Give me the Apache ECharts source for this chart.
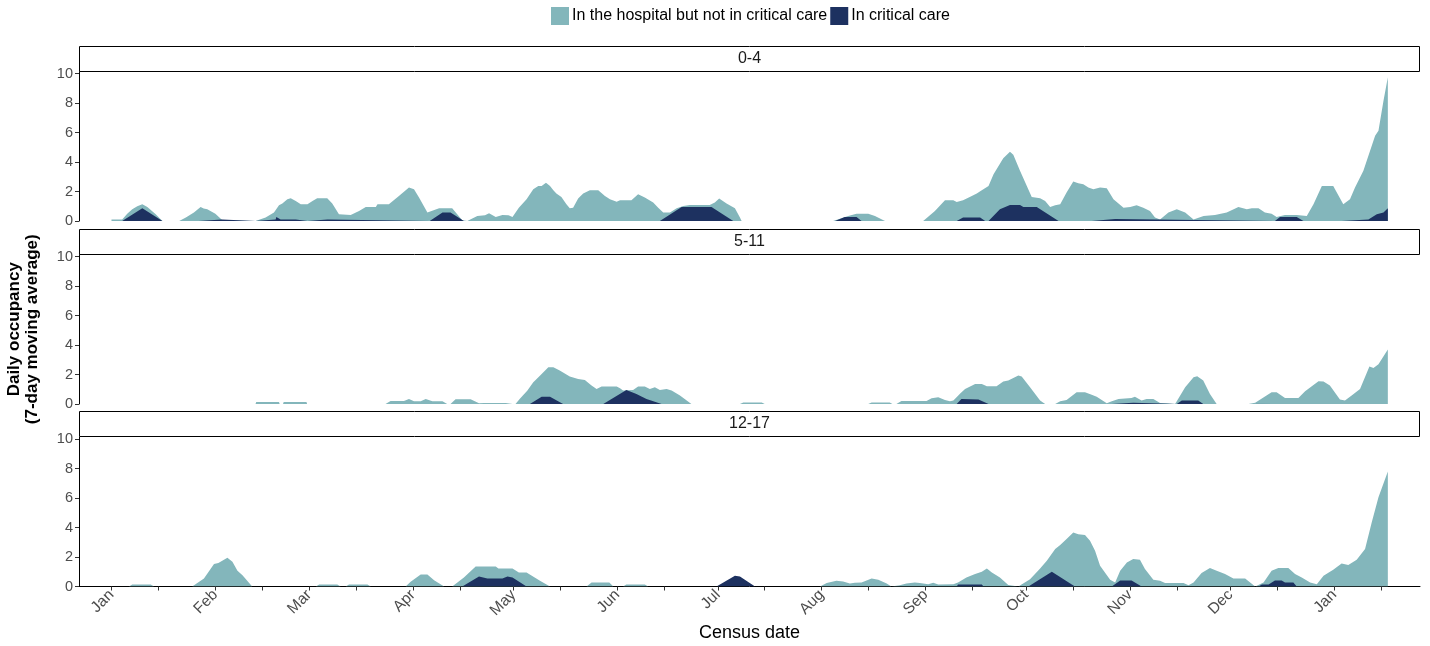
<!DOCTYPE html>
<html>
<head>
<meta charset="utf-8">
<script src="https://cdn.jsdelivr.net/npm/echarts@6/dist/echarts.min.js"></script>
<style>
html,body{margin:0;padding:0;background:#fff;}
#chart{width:1430px;height:646px;}
</style>
</head>
<body>
<div id="chart"></div>
<script>
// x values: days since 2021-01-01 (census date)
const monthStartDays = [0, 31, 59, 90, 120, 151, 181, 212, 243, 273, 304, 334, 365];
const monthLabels = ['Jan','Feb','Mar','Apr','May','Jun','Jul','Aug','Sep','Oct','Nov','Dec','Jan'];
const ageGroups = ['0-4', '5-11', '12-17'];
const yTicks = [0, 2, 4, 6, 8, 10];
const seriesNames = ['In the hospital but not in critical care', 'In critical care'];

// 0-4: in hospital but not in critical care
const hosp04 = [[0,0.11],[3.2,0.11],[4.7,0.5],[6.2,0.8],[7.7,1.0],[9.2,1.13],[10.7,0.95],[13.2,0.45],[15.2,0],
[20.2,0],[20.5,0.1],[22.2,0.23],[24.6,0.57],[26.6,0.95],[27.5,0.85],[28.6,0.8],[31,0.5],[33.1,0.05],[33.5,0],
[43,0],[43.2,0.05],[46,0.23],[48.5,0.57],[50,1.07],[51,1.18],[52.5,1.47],[53.5,1.54],[55,1.36],[56.5,1.13],[58.5,1.13],[60,1.36],[61.4,1.54],[64.4,1.54],[65.9,1.18],[67.9,0.45],[71.4,0.41],[73.9,0.68],[75.9,0.95],[78.9,0.95],[79.4,1.13],[82.8,1.13],[85.8,1.7],[88.8,2.27],[90.3,2.15],[91.8,1.59],[94.3,0.57],[97.8,0.86],[101.7,0.86],[104.7,0.05],[105,0],
[106.2,0],[106.5,0.05],[109.2,0.34],[111.5,0.39],[112.7,0.52],[114.7,0.27],[116.7,0.41],[118.5,0.39],[119.7,0.27],[121.6,0.9],[123.9,1.47],[125.9,2.15],[127.4,2.38],[128.4,2.38],[129.7,2.6],[130.9,2.38],[131.9,2.09],[132.8,1.86],[134.3,1.63],[135.8,1.13],[136.8,0.86],[137.8,0.9],[139.3,1.52],[140.8,1.86],[142.8,2.09],[145.3,2.09],[147.3,1.7],[148.8,1.47],[150.8,1.31],[151.8,1.41],[155.2,1.41],[157.2,1.81],[159.2,1.59],[161.7,1.25],[163.2,0.9],[164.7,0.57],[166.7,0.57],[168.7,0.86],[170.7,1.02],[172.6,1.09],[178.6,1.09],[180.1,1.25],[181.4,1.52],[183.6,1.18],[186.1,0.86],[187.6,0.23],[188.1,0],
[215.4,0],[219.9,0.34],[222.4,0.5],[225.9,0.5],[227.9,0.34],[230.9,0],
[242.3,0],[245.8,0.68],[248.8,1.41],[251.3,1.41],[252.3,1.29],[254.2,1.41],[256.2,1.63],[258.3,1.86],[259.2,2.0],[261.8,2.38],[263.3,3.17],[266.2,4.26],[268.2,4.69],[269.2,4.49],[271.2,3.4],[274.7,1.63],[277.2,1.54],[278.7,1.36],[280.2,0.95],[281.7,1.07],[283.2,1.13],[285.1,1.93],[287.1,2.68],[288.6,2.56],[290.1,2.49],[291.6,2.27],[293.1,2.15],[295.1,2.27],[297.1,2.22],[299.1,1.47],[300.6,1.18],[302.1,0.9],[304.1,0.95],[306,1.07],[308,0.9],[310,0.68],[311.5,0.23],[313,0.11],[315.5,0.57],[318,0.8],[320.5,0.57],[323,0.11],[326,0.34],[329.4,0.41],[332.9,0.57],[336.4,0.95],[338.9,0.8],[340.4,0.86],[342.4,0.86],[344.3,0.57],[346.3,0.5],[347.8,0.27],[350.3,0.41],[353.8,0.41],[356.8,0.34],[358.8,1.13],[361.3,2.38],[364.7,2.38],[367.7,1.13],[369.7,1.47],[371.2,2.27],[373.7,3.4],[377.2,5.78],[378.2,6.12],[379.7,8.16],[381,9.75]];

// 0-4: in critical care
const icu04 = [[3.2,0],[9.2,0.86],[15.2,0],
[26,0],[26.2,0.1],[33,0.1],[33.2,0],
[43,0],[43.2,0.1],[49,0.1],[49.2,0.27],[50.5,0.1],[55,0.1],[55.2,0],
[58.5,0],[58.7,0.1],[64.5,0.1],[64.7,0],
[95,0],[98.8,0.57],[101.2,0.57],[105.2,0],
[163.7,0],[170.2,0.95],[179.1,0.95],[185.6,0],
[216,0],[218.9,0.27],[222.4,0.27],[223.9,0],
[252.3,0],[254.2,0.23],[259.3,0.23],[260.8,0],[261.8,0],[265.2,0.8],[268.2,1.09],[271.2,1.09],[272.2,0.95],[276.2,0.95],[282.7,0],
[292.6,0],[293,0.13],[299.6,0.13],[300,0],
[347.3,0],[348.8,0.27],[353.8,0.27],[355.8,0],
[367.2,0],[367.7,0.11],[375.2,0.11],[377.7,0.45],[379.7,0.57],[381,0.86]];

// 5-11: in hospital but not in critical care
const hosp511 = [[43,0],[43.2,0.14],[50,0.14],[50.2,0],[51.2,0],[51.4,0.14],[58.2,0.14],[58.4,0],
[81.8,0],[83.3,0.2],[87.3,0.2],[88.8,0.34],[90.3,0.18],[92.3,0.18],[93.8,0.34],[95.8,0.18],[98.8,0.18],[100.2,0],
[101.2,0],[102.7,0.32],[107.2,0.32],[109.7,0.05],[111.2,0.07],[117.7,0.07],[119.7,0],
[120.6,0],[121.9,0.35],[124.1,0.9],[125.9,1.47],[126.6,1.63],[128.4,2.04],[130.4,2.49],[131.9,2.49],[133.8,2.27],[136.8,1.86],[139.3,1.7],[141.3,1.63],[143.3,1.25],[144.8,1.02],[146.3,1.18],[150.8,1.18],[151.8,1.07],[152.7,0.91],[155.7,0.95],[157.2,1.18],[159.2,1.18],[160.7,1.02],[162.2,1.13],[163.7,0.95],[165.7,1.02],[167.2,0.91],[169.7,0.57],[171.7,0.23],[173.1,0],
[187.6,0],[188.6,0.1],[194.1,0.1],[195,0],
[225.9,0],[226.9,0.1],[232.3,0.1],[233.1,0],
[234.3,0],[235.8,0.2],[243.3,0.2],[244.8,0.39],[246.8,0.45],[248.8,0.27],[250.3,0.18],[251.3,0.23],[253.5,0.75],[254.8,1.02],[257.8,1.36],[259.8,1.36],[261.3,1.2],[264.2,1.2],[266.2,1.52],[267.7,1.59],[270.7,1.93],[271.7,1.86],[274.2,1.13],[277.2,0.23],[278.7,0],
[281.7,0],[283.2,0.18],[285.1,0.27],[288.1,0.8],[290.6,0.8],[292.6,0.63],[294.1,0.5],[297.1,0.05],[298.6,0.18],[300.6,0.34],[304.5,0.41],[305.5,0.5],[307.5,0.23],[309,0.34],[311,0.34],[313,0.07],[315,0.05],[315.5,0],
[317.5,0],[320.5,1.13],[323,1.81],[324.1,1.88],[325.9,1.59],[327.9,0.68],[329.9,0],
[339.4,0],[341.4,0.09],[346.3,0.8],[347.8,0.8],[350.3,0.41],[354.3,0.41],[356.3,0.86],[360.3,1.54],[361.8,1.52],[363.7,1.25],[366.7,0.3],[368.2,0.23],[370.2,0.57],[372.7,1.02],[375.5,2.54],[376.7,2.45],[378.2,2.7],[381,3.7]];

// 5-11: in critical care
const icu511 = [[124.9,0],[128.4,0.5],[130.9,0.5],[134.8,0],
[146.8,0],[153.7,0.95],[156.7,0.68],[159.7,0.34],[164.2,0],
[252.3,0],[253.7,0.34],[258.8,0.3],[261.8,0],
[298.6,0],[299,0.09],[305,0.09],[305.4,0],
[318,0],[319.5,0.23],[324.4,0.23],[325.9,0],
[341.4,0],[341.8,0.09],[348.3,0.09],[348.7,0]];

// 12-17: in hospital but not in critical care
const hosp1217 = [[5.2,0],[6.2,0.14],[11.7,0.14],[12.7,0],
[24.1,0],[27.6,0.54],[30.6,1.52],[31.9,1.59],[34.6,1.95],[36.1,1.68],[37.6,1.07],[39.1,0.77],[42,0],
[61,0],[62,0.14],[67.4,0.14],[68.4,0],[69.9,0],[70.9,0.14],[76.4,0.14],[77.4,0],
[87.8,0],[89.3,0.32],[92.3,0.82],[94.3,0.82],[96.3,0.43],[99.3,0],
[101.7,0],[105.2,0.61],[108.7,1.36],[114.7,1.36],[115.5,1.22],[119.7,1.22],[121.6,0.95],[123.9,0.95],[127.9,0.39],[130.9,0],
[141.8,0],[143.3,0.27],[148.6,0.27],[149.8,0],[152.7,0],[153.7,0.14],[159.2,0.14],[160.2,0],
[211.5,0],[213.5,0.23],[216.4,0.39],[218.4,0.34],[220.4,0.2],[221.9,0.25],[223.9,0.27],[226.9,0.54],[228.9,0.45],[231.4,0.2],[232.8,0],[235.3,0.09],[237.3,0.2],[239.8,0.27],[241.3,0.23],[243.8,0.16],[245.3,0.25],[246.8,0.14],[251.3,0.16],[252.7,0.27],[255.2,0.61],[257.8,0.84],[259.8,1.0],[261.3,1.22],[262.8,0.95],[265.2,0.61],[267.7,0.11],[268.2,0],
[270.7,0],[274.2,0.5],[277.2,1.22],[279.2,1.75],[281.7,2.54],[283.2,2.81],[285.1,3.22],[287.1,3.67],[288.6,3.54],[290.6,3.49],[292.1,3.11],[293.6,2.43],[295.1,1.41],[298.1,0.45],[299.6,0.27],[301.1,1.07],[303.1,1.63],[305,1.86],[307,1.81],[308.5,1.18],[311,0.45],[313,0.39],[314.5,0.23],[320,0.23],[321.5,0.09],[323,0.27],[325.4,0.91],[327.9,1.25],[329.9,1.07],[332.4,0.84],[334.9,0.54],[338.4,0.54],[341.4,0],[343.9,0.27],[346.3,1.07],[348.3,1.25],[351.3,1.25],[353.3,0.84],[355.3,0.61],[357.8,0.27],[359.8,0.16],[361.8,0.73],[364.7,1.13],[367.2,1.56],[369.2,1.45],[371.7,1.81],[374.2,2.54],[376.2,4.35],[378.2,6.05],[381,7.8]];

// 12-17: in critical care
const icu1217 = [[104.7,0],[109.7,0.68],[112.2,0.54],[116.7,0.54],[118.2,0.68],[119.7,0.61],[123.9,0],
[180.6,0],[186.1,0.73],[187.6,0.68],[192.1,0],
[252.3,0],[252.7,0.14],[259.8,0.14],[260.3,0],
[273.7,0],[280.7,1.0],[287.6,0],
[298.6,0],[301.1,0.41],[304.5,0.41],[307.5,0],
[342.4,0],[343.4,0.14],[345.4,0.14],[347.3,0.41],[349.3,0.41],[350.3,0.27],[352.8,0.27],[353.8,0]];

const panelData = [[hosp04, icu04], [hosp511, icu511], [hosp1217, icu1217]];

const COLORS = ['#83b6bb', '#1d3160'];
const FONT = 'Liberation Sans, Arial, sans-serif';
const gridTops = [71.5, 254.5, 437];
const gridHeight = 149.5;
const stripTops = [46.5, 229.5, 411.5];

const midMonthDays = monthStartDays.map(d => d + 14);

const grids = [], xAxes = [], yAxes = [], series = [], graphics = [];
ageGroups.forEach((g, i) => {
  const isBottom = i === ageGroups.length - 1;
  grids.push({ left: 79, right: 10, top: gridTops[i], height: gridHeight, containLabel: false, outerBoundsMode: 'none' });
  xAxes.push({
    type: 'value', gridIndex: i, min: -9.7, max: 390.6,
    axisLine: { show: isBottom, onZero: false, lineStyle: { color: '#000', width: 1 } },
    axisTick: { show: isBottom, length: 4, lineStyle: { color: '#333' }, customValues: monthStartDays.concat(midMonthDays) },
    axisLabel: {
      show: isBottom, rotate: 45, color: '#4d4d4d', fontSize: 15.5, fontFamily: FONT, margin: 6,
      customValues: monthStartDays,
      formatter: v => { const k = monthStartDays.indexOf(Math.round(v)); return k >= 0 ? monthLabels[k] : ''; }
    },
    splitLine: { show: false },
    name: isBottom ? 'Census date' : '', nameLocation: 'middle', nameGap: 38,
    nameTextStyle: { color: '#000', fontSize: 18, fontFamily: FONT }
  });
  yAxes.push({
    type: 'value', gridIndex: i, min: 0, max: 10.14,
    axisLine: { show: true, onZero: false, lineStyle: { color: '#000', width: 1 } },
    axisTick: { show: true, length: 4, lineStyle: { color: '#333' }, customValues: yTicks },
    axisLabel: { color: '#4d4d4d', fontSize: 14.5, fontFamily: FONT, margin: 6, customValues: yTicks },
    splitLine: { show: false },
    name: i === 1 ? 'Daily occupancy\n(7-day moving average)' : '',
    nameLocation: 'middle', nameGap: 38, nameRotate: 90,
    nameTextStyle: { color: '#000', fontSize: 17, fontWeight: 'bold', fontFamily: FONT, lineHeight: 18 }
  });
  panelData[i].forEach((d, k) => {
    series.push({
      name: seriesNames[k], type: 'line', xAxisIndex: i, yAxisIndex: i,
      data: d, showSymbol: false, symbol: 'none', smooth: false,
      lineStyle: { width: 0, opacity: 0 }, itemStyle: { color: COLORS[k] },
      areaStyle: { color: COLORS[k], opacity: 1 }, z: 2 + k, silent: true
    });
  });
  graphics.push({
    type: 'rect', shape: { x: 79.5, y: stripTops[i], width: 1340, height: 25 },
    style: { fill: '#fff', stroke: '#000', lineWidth: 1 }, z: 10
  });
  graphics.push({
    type: 'text', x: 749.5, y: stripTops[i] + 12.5,
    style: { text: g, fill: '#1a1a1a', font: '16px ' + FONT, textAlign: 'center', textVerticalAlign: 'middle' }, z: 11
  });
});

const chart = echarts.init(document.getElementById('chart'), null, { renderer: 'canvas' });
chart.setOption({
  animation: false,
  backgroundColor: '#fff',
  legend: {
    data: seriesNames, top: 7, left: 551, itemWidth: 18, itemHeight: 18, itemGap: 3, padding: 0,
    icon: 'rect', textStyle: { color: '#000', fontSize: 16, fontFamily: FONT, padding: [0, 0, 0, -2] }
  },
  grid: grids, xAxis: xAxes, yAxis: yAxes, series: series, graphic: graphics
});
</script>
</body>
</html>
